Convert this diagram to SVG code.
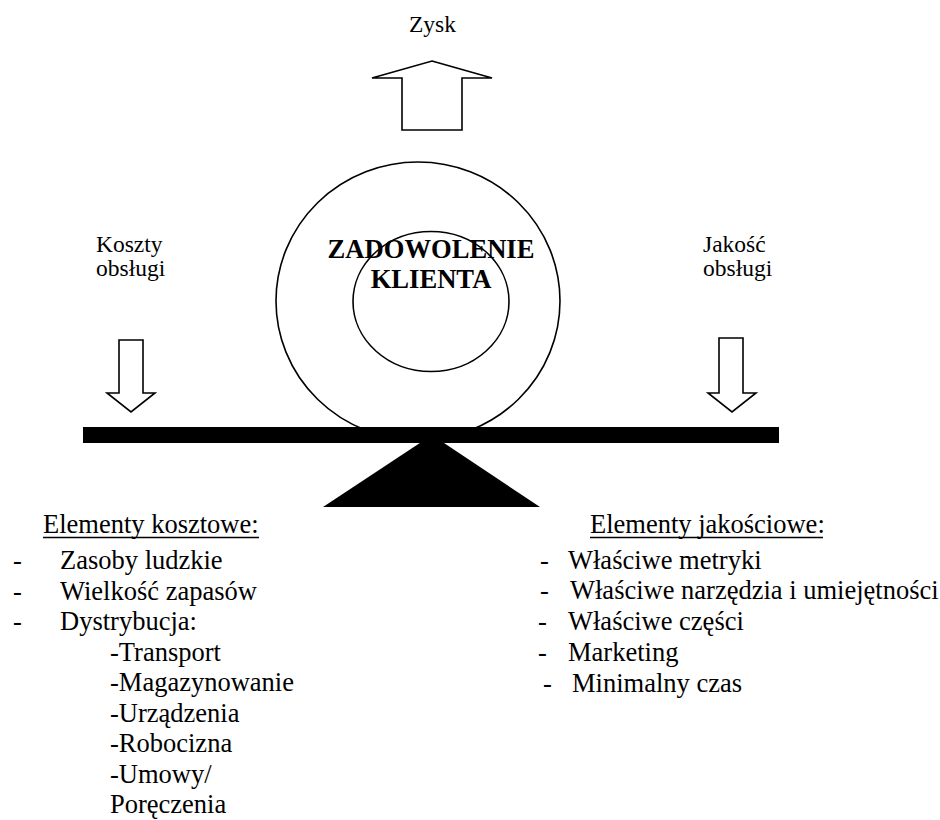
<svg xmlns="http://www.w3.org/2000/svg" width="940" height="820" viewBox="0 0 940 820">
<style>
text{font-family:"Liberation Serif","Times New Roman",serif;fill:#000}
.lbl{font-size:23.5px}
.body{font-size:26.5px}
.bold{font-size:26.6px;font-weight:bold}
.out{fill:#fff;stroke:#000;stroke-width:1.6;stroke-linejoin:miter}
.ul{stroke:#000;stroke-width:1.6}
</style>
<rect width="940" height="820" fill="#fff"/>
<g id="zysk">
<text class="lbl" x="409" y="32">Zysk</text>
<polygon class="out" points="432,61 492,78 462,78 462,130 402,130 402,78 372,78"/>
</g>
<g id="koszty">
<text class="lbl" x="96" y="252">Koszty</text>
<text class="lbl" x="96" y="276">obsługi</text>
<polygon class="out" points="119,340 143,340 143,393 155,393 131,412 107,393 119,393"/>
</g>
<g id="jakosc">
<text class="lbl" x="703" y="252">Jakość</text>
<text class="lbl" x="703" y="276">obsługi</text>
<polygon class="out" points="719,338 743,338 743,393 756,393 732,412 708,393 719,393"/>
</g>
<g id="balance">
<rect x="83" y="427" width="696" height="16" fill="#000"/>
<polygon points="432,435 540,507 323,507" fill="#000"/>
</g>
<g id="zadowolenie">
<ellipse cx="418" cy="301" rx="142" ry="139" fill="none" stroke="#000" stroke-width="1.6"/>
<ellipse cx="431" cy="301.5" rx="78" ry="70" fill="none" stroke="#000" stroke-width="1.6"/>
<text class="bold" x="431" y="258" text-anchor="middle">ZADOWOLENIE</text>
<text class="bold" x="431" y="288" text-anchor="middle">KLIENTA</text>
</g>
<g id="koszty-lista">
<text class="body" x="43" y="533">Elementy kosztowe:</text>
<line class="ul" x1="43" y1="537.5" x2="259" y2="537.5"/>
<text class="body" x="13" y="569">-</text><text class="body" x="60" y="569">Zasoby ludzkie</text>
<text class="body" x="13" y="599.5">-</text><text class="body" x="60" y="599.5">Wielkość zapasów</text>
<text class="body" x="13" y="630">-</text><text class="body" x="60" y="630">Dystrybucja:</text>
<text class="body" x="110" y="660.5">-Transport</text>
<text class="body" x="110" y="691">-Magazynowanie</text>
<text class="body" x="110" y="721.5">-Urządzenia</text>
<text class="body" x="110" y="752">-Robocizna</text>
<text class="body" x="110" y="782.5">-Umowy/</text>
<text class="body" x="110" y="813">Poręczenia</text>
</g>
<g id="jakosc-lista">
<text class="body" x="590" y="533">Elementy jakościowe:</text>
<line class="ul" x1="590" y1="537.5" x2="823" y2="537.5"/>
<text class="body" x="540" y="568.5">-</text><text class="body" x="568" y="568.5">Właściwe metryki</text>
<text class="body" x="540" y="599.3">-</text><text class="body" x="570" y="599.3">Właściwe narzędzia i umiejętności</text>
<text class="body" x="538" y="630.1">-</text><text class="body" x="568" y="630.1">Właściwe części</text>
<text class="body" x="538" y="660.9">-</text><text class="body" x="568" y="660.9">Marketing</text>
<text class="body" x="543" y="691.7">-</text><text class="body" x="572" y="691.7">Minimalny czas</text>
</g>
</svg>
